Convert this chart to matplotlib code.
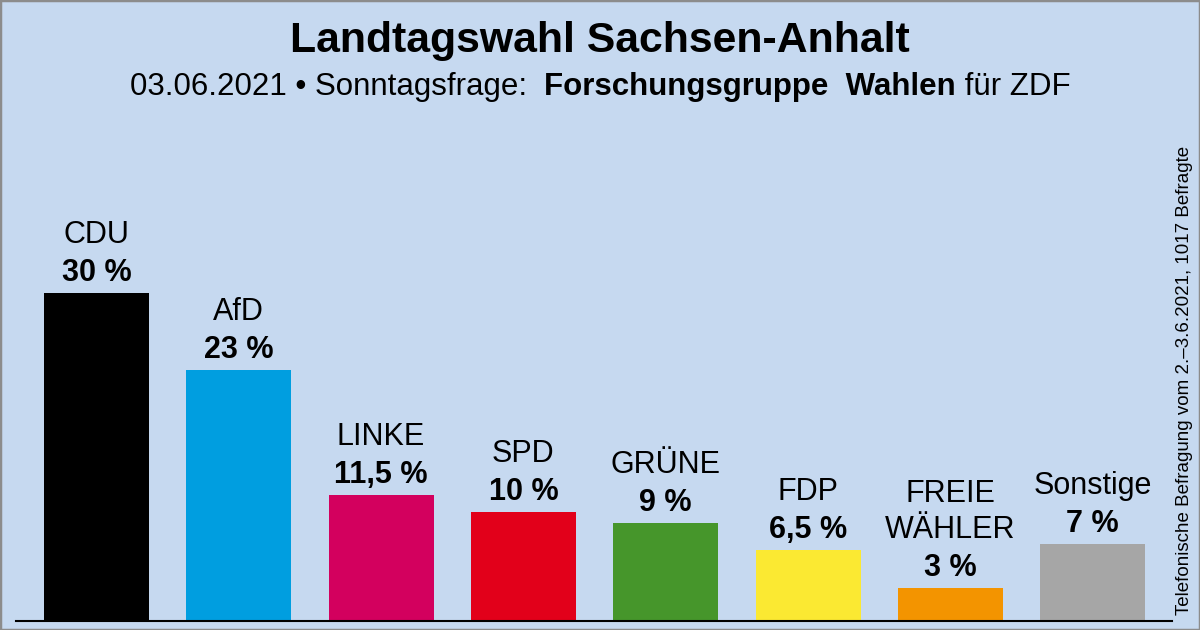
import matplotlib
matplotlib.use("Agg")
import matplotlib.pyplot as plt
from matplotlib.patches import Rectangle

parties = ["CDU", "AfD", "LINKE", "SPD", "GRÜNE", "FDP", "FREIE\nWÄHLER", "Sonstige"]
values = [30, 23, 11.5, 10, 9, 6.5, 3, 7]
value_labels = ["30 %", "23 %", "11,5 %", "10 %", "9 %", "6,5 %", "3 %", "7 %"]
colors = ["#000000", "#009ee0", "#d3005e", "#e2001a", "#46962b", "#fbe932", "#f39400", "#a6a6a6"]

title = "Landtagswahl Sachsen-Anhalt"
sub_parts = [("03.06.2021 • Sonntagsfrage:  ", "normal"),
             ("Forschungsgruppe  Wahlen", "bold"),
             (" für ZDF", "normal")]
side_note = "Telefonische Befragung vom 2.–3.6.2021, 1017 Befragte"

BG = "#c6d9f0"
W, H = 1200, 630
plt.rcParams['font.family'] = ['Liberation Sans', 'DejaVu Sans']

fig = plt.figure(figsize=(W / 100, H / 100), dpi=100, facecolor=BG)

# axes: x from 16 to 1172 px, y baseline at 621 px
ax_left, ax_right = 16, 1172
ax_bottom, ax_top = 621, 130
ax = fig.add_axes([ax_left / W, (H - ax_bottom) / H, (ax_right - ax_left) / W, (ax_bottom - ax_top) / H])
ax.set_facecolor(BG)
spacing = 142.3
x0 = 96.5
xs = list(range(len(parties)))
ax.set_xlim(-(x0 - ax_left) / spacing, (ax_right - x0) / spacing)
px_per_pct = 10.93
ax.set_ylim(0, (ax_bottom - ax_top) / px_per_pct)
ax.bar(xs, values, width=105 / spacing, color=colors)
for s in ["top", "left", "right"]:
    ax.spines[s].set_visible(False)
ax.spines["bottom"].set_linewidth(1.5)
ax.set_xticks([])
ax.set_yticks([])

pt = 72 / 100  # points per pixel
for x, v, lab, vl in zip(xs, values, parties, value_labels):
    ax.annotate(vl, (x, v), xytext=(0, 12 * pt), textcoords="offset points",
                ha="center", va="baseline", fontsize=22, fontweight="bold")
    lines = lab.split("\n")[::-1]
    for i, ln in enumerate(lines):
        ax.annotate(ln, (x, v), xytext=(0, (12 + 38 + 36.5 * i) * pt), textcoords="offset points",
                    ha="center", va="baseline", fontsize=22)

# title
fig.text(0.5, 1 - 52 / H, title, ha="center", va="baseline", fontsize=30.8, fontweight="bold")

# subtitle with mixed weights
renderer = fig.canvas.get_renderer()
texts = []
for s, w in sub_parts:
    t = fig.text(0, 1 - 95 / H, s, ha="left", va="baseline", fontsize=22.5, fontweight=w)
    texts.append(t)
widths = [t.get_window_extent(renderer).width for t in texts]
total = sum(widths)
xstart = (W - total) / 2
for t, wd in zip(texts, widths):
    t.set_x(xstart / W)
    xstart += wd

# side note
fig.text(1193 / W, 1 - 615 / H, side_note, rotation=90, ha="right", va="bottom", fontsize=13.5)

# border
fig.patches.append(Rectangle((0, 0), 1, 1, transform=fig.transFigure, fill=False,
                             edgecolor="#8c8c8c", linewidth=2.5))

fig.savefig("out.png", dpi=100, facecolor=BG)
